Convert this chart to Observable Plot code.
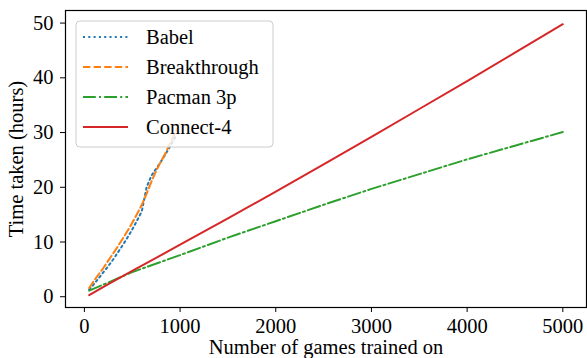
<!DOCTYPE html>
<html><head><meta charset="utf-8">
<script src="https://cdn.jsdelivr.net/npm/d3@7"></script>
<script src="https://cdn.jsdelivr.net/npm/@observablehq/plot@0.6"></script>
<style>
body{margin:0;background:#fff}
svg, svg text { font-family: "Liberation Serif", serif !important; }
</style>
</head><body><div id="chart"></div>
<script>
const seriesNames = ["Babel", "Breakthrough", "Pacman 3p", "Connect-4"];
const seriesColors = ["#1f77b4", "#ff7f0e", "#2ca02c", "#d62728"];
const seriesDash = ["2,3.3", "7.4,3.2", "12.8,3.2,2,3.2", null];

const babelGames = [50,100,150,200,250,300,350,400,450,500,550,600,625,650,700,750,800,850,900,950];
const babelHours = [1.3,2.3,3.4,4.5,5.6,6.8,8.1,9.4,10.8,12.3,13.9,15.6,17.8,20.0,22.1,23.4,24.7,26.1,27.6,29.2];

const breakthroughGames = [50,100,150,200,250,300,350,400,450,500,550,600,650,700,750,800,850,900,950,1000];
const breakthroughHours = [1.6,2.9,4.1,5.3,6.6,7.9,9.2,10.6,12.0,13.5,15.1,16.8,18.8,21.0,23.0,24.7,26.3,28.2,30.0,31.8];

const pacmanGames = [50,250,500,1000,1500,2000,2500,3000,3500,4000,4500,5000];
const pacmanHours = [1.1,2.6,4.5,7.6,10.8,13.8,16.8,19.7,22.4,25.1,27.6,30.1];

const connectGames = [50,250,500,1000,1500,2000,2500,3000,3500,4000,4500,5000];
const connectHours = [0.3,2.3,4.7,9.5,14.3,19.2,24.2,29.2,34.3,39.4,44.6,49.8];

const xTicks = [0,1000,2000,3000,4000,5000];
const yTicks = [0,10,20,30,40,50];

const allGames = [babelGames, breakthroughGames, pacmanGames, connectGames];
const allHours = [babelHours, breakthroughHours, pacmanHours, connectHours];
const rows = [];
seriesNames.forEach((name, i) => {
  allGames[i].forEach((g, j) => rows.push({series: name, games: g, hours: allHours[i][j]}));
});

function legendMark(index, scales, values, dims) {
  const g = d3.create("svg:g");
  const x0 = dims.marginLeft + 11, y0 = dims.marginTop + 11;
  g.append("rect").attr("x", x0).attr("y", y0).attr("width", 197).attr("height", 126)
    .attr("rx", 4).attr("fill", "white").attr("fill-opacity", 0.8)
    .attr("stroke", "#cccccc").attr("stroke-width", 1);
  seriesNames.forEach((name, i) => {
    const cy = y0 + 16 + i * 30;
    g.append("line").attr("x1", x0 + 7).attr("x2", x0 + 52).attr("y1", cy).attr("y2", cy)
      .attr("stroke", seriesColors[i]).attr("stroke-width", 2)
      .attr("stroke-dasharray", seriesDash[i]);
    g.append("text").attr("x", x0 + 70).attr("y", cy).attr("dy", "0.35em")
      .attr("text-anchor", "start")
      .attr("fill", "black").attr("font-size", "20.5px").text(name);
  });
  return g.node();
}

const lineMarks = seriesNames.map((name, i) =>
  Plot.line(rows.filter(d => d.series === name), {
    x: "games", y: "hours", stroke: seriesColors[i], strokeWidth: 2,
    strokeDasharray: seriesDash[i] || undefined, curve: "linear"
  })
);

const chart = Plot.plot({
  width: 587, height: 358,
  marginLeft: 65, marginRight: 1, marginTop: 10, marginBottom: 51,
  style: {fontSize: "20.5px", background: "white", color: "black"},
  x: {domain: [-197.5, 5247.5]},
  y: {domain: [-1.97, 52.3]},
  marks: [
    ...lineMarks,
    legendMark,
    Plot.frame({stroke: "black", strokeWidth: 1.2}),
    Plot.axisX({ticks: xTicks, tickSize: 5, tickPadding: 6, fontSize: 20.5, tickFormat: d => String(d),
      label: "Number of games trained on", labelAnchor: "center", labelOffset: 46, labelArrow: "none"}),
    Plot.axisY({ticks: yTicks, tickSize: 5, tickPadding: 7, fontSize: 20.5, tickFormat: d => String(d),
      label: "Time taken (hours)", labelAnchor: "center", labelOffset: 57, labelArrow: "none"})
  ]
});
document.getElementById("chart").append(chart);
</script>
</body></html>
